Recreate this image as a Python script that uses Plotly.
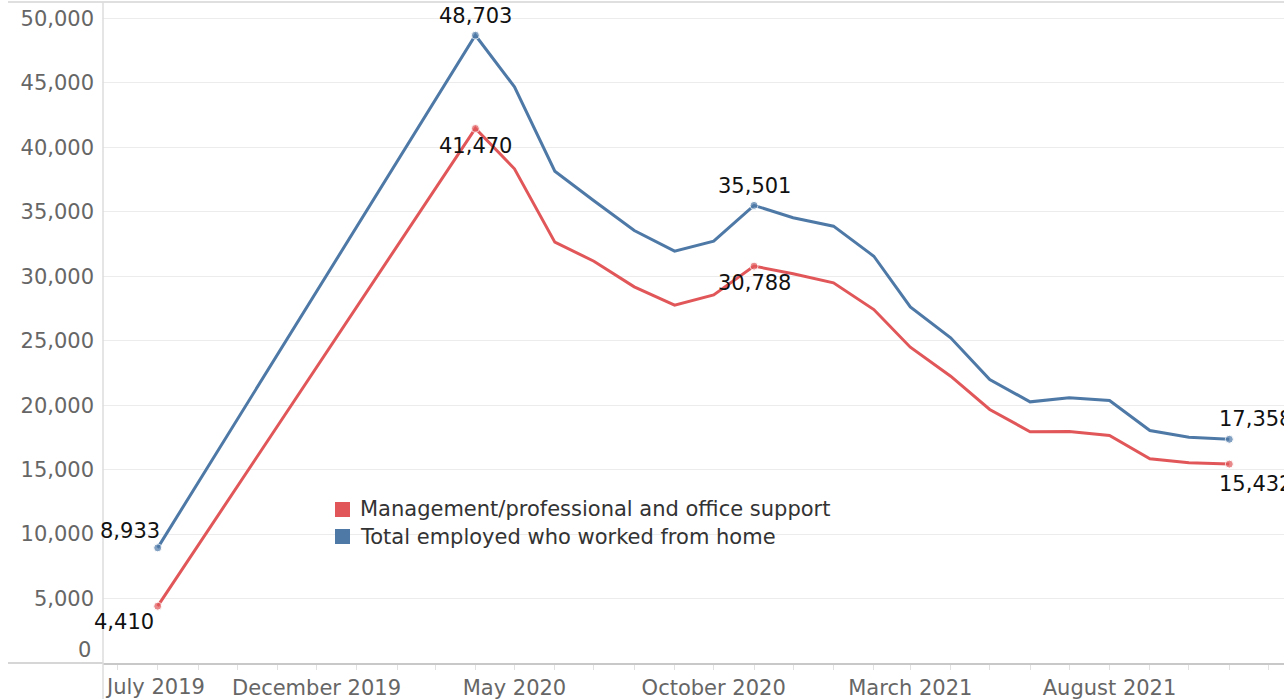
import plotly.graph_objects as go

# Survey months (first day of each month)
months = [
    "2019-08-01", "2020-04-01", "2020-05-01", "2020-06-01", "2020-07-01",
    "2020-08-01", "2020-09-01", "2020-10-01", "2020-11-01", "2020-12-01",
    "2021-01-01", "2021-02-01", "2021-03-01", "2021-04-01", "2021-05-01",
    "2021-06-01", "2021-07-01", "2021-08-01", "2021-09-01", "2021-10-01",
    "2021-11-01",
]
total_home = [
    8933, 48703, 44700, 38150, 35860, 33550, 31950, 32730, 35501, 34540,
    33890, 31560, 27630, 25230, 21990, 20260, 20570, 20360, 18040, 17520,
    17358,
]
mgmt_office = [
    4410, 41470, 38340, 32650, 31170, 29180, 27760, 28560, 30788, 30200,
    29490, 27420, 24500, 22250, 19670, 17940, 17960, 17650, 15840, 15530,
    15432,
]
labelled = [0, 1, 8, 20]

series_names = ["Management/professional and office support",
                "Total employed who worked from home"]

x_tick_vals = ["2019-12-01", "2020-05-01", "2020-10-01", "2021-03-01", "2021-08-01"]
x_tick_text = ["December 2019", "May 2020", "October 2020", "March 2021", "August 2021"]
first_tick_text = "July 2019"
y_tick_vals = [5000, 10000, 15000, 20000, 25000, 30000, 35000, 40000, 45000, 50000]

RED = "#e15759"
BLUE = "#4e79a7"
FONT = "DejaVu Sans"
TICK_GREY = "#666666"

# Plot-area geometry in pixels, used to place the key and frame lines
W, H = 1284, 699
L, R, T, B = 103, 0, 2, 36
PW, PH = W - L - R, H - T - B


def px_x(p):
    return (p - L) / PW


def px_y(p):
    return (H - B - p) / PH


fig = go.Figure()


def add_series(name, values, color):
    sizes = [8 if i in labelled else 0 for i in range(len(values))]
    fig.add_trace(go.Scatter(
        x=months, y=values, mode="lines+markers", name=name,
        line=dict(color=color, width=3),
        marker=dict(color=color, size=sizes),
        showlegend=False, hoverinfo="x+y",
    ))


add_series(series_names[1], total_home, BLUE)
add_series(series_names[0], mgmt_office, RED)

# Value labels on selected points
label_style = {
    # index: (xanchor, xshift, yshift) for total, then for management
    0: (("right", 4, 17), ("right", -2, -16)),
    1: (("center", 0, 19), ("center", 0, -18)),
    8: (("center", 0, 19), ("center", 0, -17)),
    20: (("left", -12, 20), ("left", -12, -20)),
}
for i in labelled:
    for values, (xa, xs, ys) in zip((total_home, mgmt_office), label_style[i]):
        fig.add_annotation(
            x=months[i], y=values[i], text=f"{values[i]:,}", showarrow=False,
            xanchor=xa, yanchor="middle", xshift=xs, yshift=ys,
            font=dict(family=FONT, size=21, color="#111111"),
        )

# Colour key inside the plot
for row, (name, color) in enumerate(zip(series_names, [RED, BLUE])):
    cy = 509.5 + row * 27
    fig.add_shape(type="rect", xref="paper", yref="paper",
                  x0=px_x(335), x1=px_x(350), y0=px_y(cy + 7.5), y1=px_y(cy - 7.5),
                  fillcolor=color, line=dict(width=0), layer="above")
    fig.add_annotation(xref="paper", yref="paper", x=px_x(358), y=px_y(cy),
                       text=name, showarrow=False, xanchor="left", yanchor="middle",
                       font=dict(family=FONT, size=21, color="#333333"))

# Zero label sits a little above the axis line
fig.add_annotation(
    xref="paper", x=0, y=0, text="0", showarrow=False,
    xanchor="right", yanchor="middle", xshift=-10, yshift=13,
    font=dict(family=FONT, size=21, color=TICK_GREY),
)
# First month label starts at the axis edge
fig.add_annotation(
    xref="paper", yref="paper", x=0, y=0, text=first_tick_text, showarrow=False,
    xanchor="left", yanchor="top", xshift=0, yshift=-10,
    font=dict(family=FONT, size=21, color=TICK_GREY),
)

# Frame lines reaching into the label area
fig.add_shape(type="line", xref="paper", yref="paper", x0=px_x(8), x1=1.0, y0=1, y1=1,
              line=dict(color="#d4d4d4", width=1.5))
fig.add_shape(type="line", xref="paper", yref="paper", x0=px_x(8), x1=0, y0=0, y1=0,
              line=dict(color="#c8c8c8", width=1.5))
fig.add_shape(type="line", xref="paper", yref="paper", x0=0, x1=0, y0=px_y(H), y1=1,
              line=dict(color="#dcdcdc", width=1.5))

fig.update_layout(
    width=W, height=H,
    margin=dict(l=L, r=R, t=T, b=B),
    paper_bgcolor="white", plot_bgcolor="white",
    font=dict(family=FONT, size=21, color=TICK_GREY),
    showlegend=False,
    xaxis=dict(
        type="date", range=["2019-06-20", "2021-12-13"],
        tickvals=x_tick_vals, ticktext=x_tick_text,
        ticks="outside", ticklen=5, tickcolor="#e0e0e0",
        minor=dict(ticks="outside", ticklen=5, tickcolor="#e0e0e0",
                   dtick="M1", tick0="2019-07-01"),
        showgrid=False, zeroline=False,
        showline=True, linecolor="#c8c8c8", linewidth=1.5,
        tickfont=dict(family=FONT, size=21, color=TICK_GREY),
    ),
    yaxis=dict(
        range=[0, 51280], tickvals=y_tick_vals, tickformat=",",
        showgrid=True, gridcolor="#ececec", gridwidth=1,
        zeroline=False, showline=False, ticks="",
        ticklabelstandoff=8,
        tickfont=dict(family=FONT, size=21, color=TICK_GREY),
    ),
)

fig.write_html("out.html")
